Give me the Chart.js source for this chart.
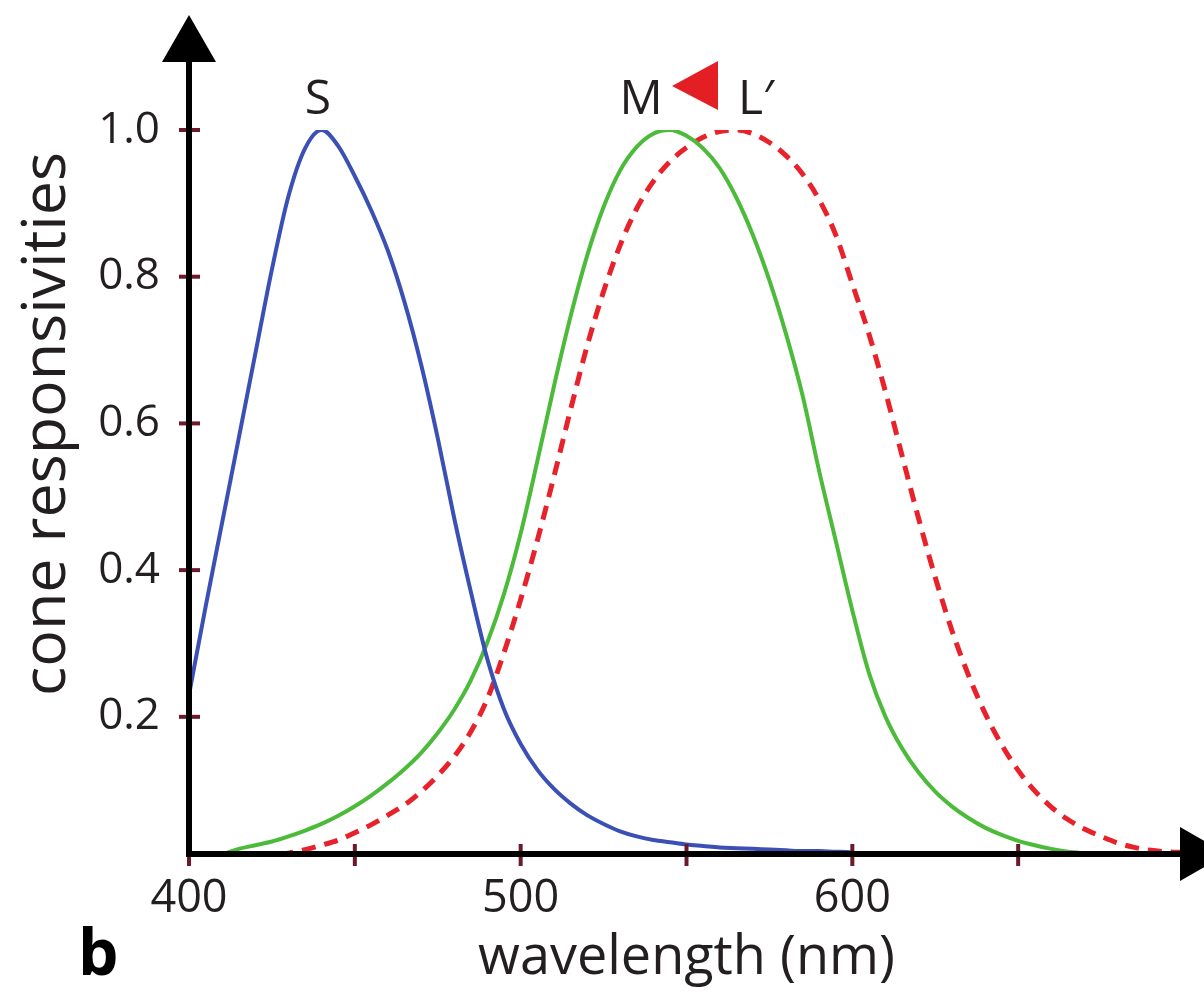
<!DOCTYPE html>
<html>
<head>
<meta charset="utf-8">
<script src="https://cdn.jsdelivr.net/npm/chart.js@4.4.0/dist/chart.umd.min.js"></script>
<style>
  html, body { margin: 0; padding: 0; background: #fff; }
  #wrap { width: 1204px; height: 995px; }
</style>
</head>
<body>
<div id="wrap"><canvas id="grafico" width="1204" height="995"></canvas></div>
<script>
// longitudes de onda (nm), paso de 5
var wavelengths = [400, 405, 410, 415, 420, 425, 430, 435, 440, 445,
                   450, 455, 460, 465, 470, 475, 480, 485, 490, 495,
                   500, 505, 510, 515, 520, 525, 530, 535, 540, 545,
                   550, 555, 560, 565, 570, 575, 580, 585, 590, 595,
                   600, 605, 610, 615, 620, 625, 630, 635, 640, 645,
                   650, 655, 660, 665, 670, 675, 680, 685, 690, 695, 700];

var coneS = [0.23, 0.35, 0.465, 0.58, 0.695, 0.81, 0.91, 0.975, 1.0, 0.978,
             0.937, 0.89, 0.835, 0.765, 0.68, 0.58, 0.47, 0.37, 0.278, 0.21,
             0.163, 0.128, 0.102, 0.082, 0.066, 0.054, 0.044, 0.037, 0.032, 0.029,
             0.026, 0.024, 0.022, 0.021, 0.02, 0.019, 0.018, 0.017, 0.017, 0.016,
             0.015, 0, 0, 0, 0, 0, 0, 0, 0, 0,
             0, 0, 0, 0, 0, 0, 0, 0, 0, 0, 0];

var coneM = [0, 0, 0.012, 0.02, 0.025, 0.03, 0.037, 0.045, 0.054, 0.065,
             0.078, 0.093, 0.11, 0.129, 0.151, 0.178, 0.21, 0.25, 0.302, 0.368,
             0.45, 0.548, 0.65, 0.745, 0.828, 0.895, 0.945, 0.977, 0.995, 1.0,
             0.992, 0.975, 0.948, 0.908, 0.857, 0.795, 0.722, 0.638, 0.535, 0.44,
             0.345, 0.26, 0.2, 0.157, 0.124, 0.098, 0.078, 0.062, 0.049, 0.039,
             0.031, 0.025, 0.02, 0.016, 0.013, 0, 0, 0, 0, 0, 0];

var coneL = [0, 0, 0, 0, 0, 0.008, 0.014, 0.019, 0.025, 0.032,
             0.042, 0.053, 0.066, 0.08, 0.098, 0.12, 0.146, 0.18, 0.225, 0.288,
             0.36, 0.44, 0.527, 0.618, 0.705, 0.78, 0.843, 0.893, 0.93, 0.957,
             0.976, 0.99, 0.998, 1.0, 0.995, 0.983, 0.965, 0.94, 0.905, 0.857,
             0.79, 0.722, 0.643, 0.556, 0.47, 0.39, 0.318, 0.257, 0.205, 0.162,
             0.127, 0.099, 0.077, 0.06, 0.047, 0.037, 0.028, 0.022, 0.018, 0.016, 0.015];

var xTicks = [400, 450, 500, 550, 600, 650];
var xTickLabels = ['400', '', '500', '', '600', ''];
var yTicks = [0.2, 0.4, 0.6, 0.8, 1.0];
var yTickLabels = ['0.2', '0.4', '0.6', '0.8', '1.0'];

var FONT = '"Open Sans", "DejaVu Sans", sans-serif';

function puntos(valores) {
    return wavelengths.map(function (w, i) { return { x: w, y: valores[i] }; });
}

function linea(ctx, x1, y1, x2, y2) {
    ctx.beginPath();
    ctx.moveTo(x1, y1);
    ctx.lineTo(x2, y2);
    ctx.stroke();
}

// ejes con flechas, marcas, titulo vertical y rotulos S / M / L'
var ejesPlugin = {
    id: 'ejes',
    afterDatasetsDraw: function (chart) {
        var ctx = chart.ctx;
        var xs = chart.scales.x, ys = chart.scales.y;
        var x0 = xs.left, y0 = ys.bottom;
        ctx.save();

        ctx.strokeStyle = '#6b1a2c';
        ctx.lineWidth = 4;
        yTicks.forEach(function (v) {
            var py = ys.getPixelForValue(v);
            linea(ctx, x0 - 10, py, x0 + 11, py);
        });
        xTicks.forEach(function (v) {
            var px = xs.getPixelForValue(v);
            linea(ctx, px, y0 - 10, px, y0 + 12);
        });

        ctx.strokeStyle = '#000';
        ctx.lineWidth = 6;
        linea(ctx, x0, y0 + 3, x0, 58);
        linea(ctx, x0 - 3, y0, 1182, y0);

        ctx.fillStyle = '#000';
        ctx.beginPath();
        ctx.moveTo(x0, 15);
        ctx.lineTo(x0 + 27, 62);
        ctx.lineTo(x0 - 27, 62);
        ctx.closePath();
        ctx.fill();
        ctx.beginPath();
        ctx.moveTo(1227, y0);
        ctx.lineTo(1180, y0 - 27);
        ctx.lineTo(1180, y0 + 27);
        ctx.closePath();
        ctx.fill();

        // titulo del eje y
        ctx.fillStyle = '#231f20';
        ctx.save();
        ctx.translate(48, 424);
        ctx.rotate(-Math.PI / 2);
        ctx.font = '61px ' + FONT;
        ctx.textAlign = 'center';
        ctx.textBaseline = 'middle';
        ctx.fillText('cone responsivities', 0, 0);
        ctx.restore();

        ctx.font = '48px ' + FONT;
        ctx.textBaseline = 'alphabetic';
        ctx.textAlign = 'center';
        ctx.fillText('S', 318, 114);
        ctx.fillText('M', 641, 114);
        ctx.textAlign = 'left';
        ctx.fillText('L\u2032', 738, 114);

        ctx.fillStyle = '#e31e25';
        ctx.beginPath();
        ctx.moveTo(672, 86);
        ctx.lineTo(718, 61);
        ctx.lineTo(718, 110);
        ctx.closePath();
        ctx.fill();

        ctx.fillStyle = '#000';
        ctx.font = 'bold 64px ' + FONT;
        ctx.fillText('b', 78, 975);

        ctx.restore();
    }
};

var ctx = document.getElementById('grafico').getContext('2d');

var grafico = new Chart(ctx, {
    type: 'line',
    data: {
        datasets: [
            {
                label: 'S',
                data: puntos(coneS),
                borderColor: '#3b50b5',
                borderWidth: 4,
                pointRadius: 0,
                cubicInterpolationMode: 'monotone'
            },
            {
                label: 'M',
                data: puntos(coneM),
                borderColor: '#4cbb3a',
                borderWidth: 4,
                pointRadius: 0,
                cubicInterpolationMode: 'monotone'
            },
            {
                label: "L'",
                data: puntos(coneL),
                borderColor: '#e8222b',
                borderWidth: 5,
                borderDash: [14, 9],
                pointRadius: 0,
                cubicInterpolationMode: 'monotone'
            }
        ]
    },
    options: {
        responsive: false,
        animation: false,
        devicePixelRatio: 1,
        layout: { padding: { top: 130, right: 20, left: 0, bottom: 0 } },
        plugins: {
            legend: { display: false },
            tooltip: { enabled: false }
        },
        scales: {
            x: {
                type: 'linear',
                min: 400,
                max: 700,
                grid: { display: false, drawTicks: false },
                border: { display: false },
                afterFit: function (scale) { scale.height = 141; },
                afterBuildTicks: function (scale) {
                    scale.ticks = xTicks.map(function (v) { return { value: v }; });
                },
                ticks: {
                    autoSkip: false,
                    maxRotation: 0,
                    padding: 18,
                    color: '#231f20',
                    font: { family: FONT, size: 45 },
                    callback: function (value) {
                        var i = xTicks.indexOf(value);
                        return i >= 0 ? xTickLabels[i] : '';
                    }
                },
                title: {
                    display: true,
                    text: 'wavelength (nm)',
                    color: '#231f20',
                    font: { family: FONT, size: 54 },
                    padding: { top: 0, bottom: 4 }
                }
            },
            y: {
                type: 'linear',
                min: 0.013,
                max: 1.0,
                grid: { display: false, drawTicks: false },
                border: { display: false },
                afterFit: function (scale) { scale.width = 189; },
                afterBuildTicks: function (scale) {
                    scale.ticks = yTicks.map(function (v) { return { value: v }; });
                },
                ticks: {
                    autoSkip: false,
                    padding: 29,
                    color: '#231f20',
                    font: { family: FONT, size: 44 },
                    callback: function (value) {
                        var i = yTicks.indexOf(value);
                        return i >= 0 ? yTickLabels[i] : '';
                    }
                }
            }
        }
    },
    plugins: [ejesPlugin]
});
</script>
</body>
</html>
